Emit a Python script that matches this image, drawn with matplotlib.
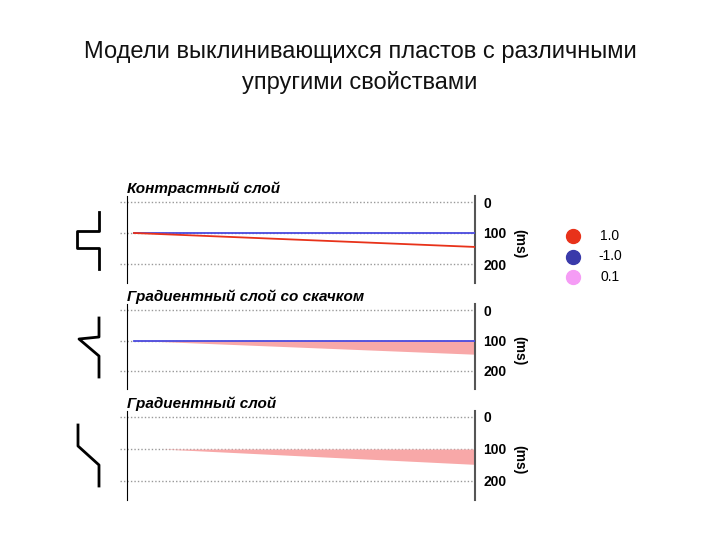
import numpy as np
import matplotlib.pyplot as plt
from matplotlib.lines import Line2D

plt.rcParams['font.family'] = ['Liberation Sans', 'DejaVu Sans']

# Panel titles and wedge geometry (time in ms, x in trace units 0..1)
titles = ["Контрастный слой", "Градиентный слой со скачком", "Градиентный слой"]
top_ms = [100, 100, 100]
x_start = [0.02, 0.02, 0.1]
x_end = [1.0, 1.0, 1.0]
base_end_ms = [145, 145, 148]
yticks = [0, 100, 200]
legend_vals = ["1.0", "-1.0", "0.1"]
legend_cols = ["#e8321a", "#3a3aaa", "#f59cf5"]

# figure-pixel boxes for the three panels: (left, top, right, bottom)
boxes = [(120, 196, 475, 283), (120, 304, 475, 389), (120, 411, 475, 500)]
zero_px = [202, 310, 417]
scale_px = [0.31, 0.305, 0.32]
spine_px = 127

W, H = 720, 540
fig = plt.figure(figsize=(7.2, 5.4), dpi=100)

fig.text(0.5, 1 - 52 / H, "Модели выклинивающихся пластов с различными",
         ha="center", va="center", fontsize=17, color="#111")
fig.text(0.5, 1 - 82 / H, "упругими свойствами",
         ha="center", va="center", fontsize=17, color="#111")

for i in range(3):
    l, t, r, b = boxes[i]
    ax = fig.add_axes([l / W, 1 - b / H, (r - l) / W, (b - t) / H])
    ymin = -(zero_px[i] - t) / scale_px[i]
    ymax = (b - zero_px[i]) / scale_px[i]
    ax.set_ylim(ymax, ymin)
    x0 = -(spine_px - l) / (r - spine_px)
    ax.set_xlim(x0, 1)
    for yv in yticks:
        ax.axhline(yv, color="#999", lw=1, ls=(0, (1, 1.5)), zorder=1)
    xs = np.array([x_start[i], x_end[i]])
    lower = np.array([top_ms[i], base_end_ms[i]])
    if i == 0:
        ax.plot(xs, [top_ms[i]] * 2, color="#4a4adf", lw=1.3, zorder=3)
        ax.plot(xs, lower, color="#e8321a", lw=1.3, zorder=3)
    else:
        ax.fill_between(xs, [top_ms[i]] * 2, lower, color="#f8a8a8", lw=0, zorder=2)
        if i == 1:
            ax.plot(xs, [top_ms[i]] * 2, color="#4a4adf", lw=1.3, zorder=3)
    ax.spines["top"].set_visible(False)
    ax.spines["bottom"].set_visible(False)
    ax.spines["left"].set_position(("data", 0))
    ax.spines["left"].set_color("black")
    ax.spines["right"].set_color("#555")
    ax.spines["right"].set_linewidth(1.5)
    ax.set_xticks([])
    ax.yaxis.tick_right()
    ax.set_yticks(yticks)
    ax.tick_params(axis="y", length=0, pad=6, labelsize=10)
    for lab in ax.get_yticklabels():
        lab.set_fontweight("bold")
    ax.text(0.0, ymin, titles[i], ha="left", va="bottom",
            fontsize=11, fontweight="bold", style="italic")
    ax.text(1.125, 0.45, "(ms)", transform=ax.transAxes, rotation=-90,
            ha="center", va="center", fontsize=10, fontweight="bold")

# well-log symbols on the left, in pixel coordinates
logs = [
    [(99, 212), (99, 231), (77, 231), (77, 248), (99, 248), (99, 269)],
    [(99, 318), (99, 337), (79, 339), (99, 356), (99, 377)],
    [(78, 425), (78, 446), (99, 465), (99, 486)],
]
for pts in logs:
    px = [p[0] / W for p in pts]
    py = [1 - p[1] / H for p in pts]
    fig.add_artist(Line2D(px, py, color="black", lw=2))

# legend
for k in range(3):
    yy = 1 - (236 + 20.5 * k) / H
    fig.add_artist(Line2D([573 / W], [yy], marker="o", ms=10, color=legend_cols[k], ls=""))
    fig.text(610 / W, yy, legend_vals[k], ha="center", va="center", fontsize=10)

fig.savefig("out.png", dpi=100)
